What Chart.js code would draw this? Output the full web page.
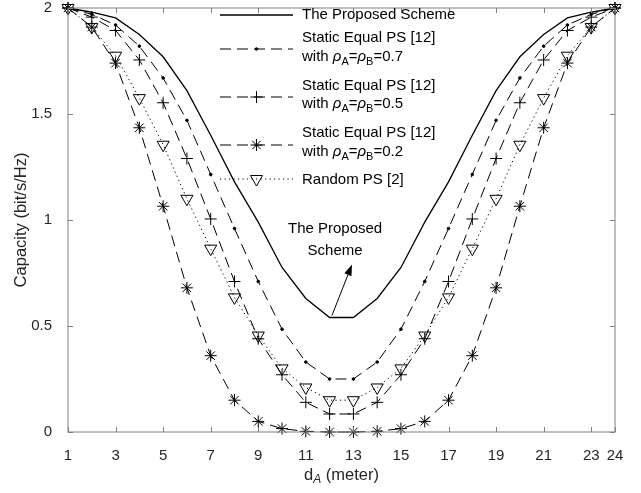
<!DOCTYPE html>
<html><head><meta charset="utf-8">
<script src="https://cdn.jsdelivr.net/npm/chart.js@4"></script>
<style>html,body{margin:0;padding:0;background:#fff}</style>
</head><body>
<canvas id="c" width="641" height="493" style="display:block;width:641px;height:493px"></canvas>
<script>
// ---- data ----
const distances   = [1,2,3,4,5,6,7,8,9,10,11,12,13,14,15,16,17,18,19,20,21,22,23,24];
const proposed    = [2,1.98,1.953,1.875,1.77,1.61,1.40,1.18,0.99,0.776,0.63,0.54,0.54,0.63,0.776,0.99,1.18,1.40,1.61,1.77,1.875,1.953,1.98,2];
const staticRho07 = [2,1.97,1.92,1.82,1.67,1.47,1.215,0.96,0.71,0.485,0.33,0.25,0.25,0.33,0.485,0.71,0.96,1.215,1.47,1.67,1.82,1.92,1.97,2];
const staticRho05 = [2,1.957,1.894,1.755,1.553,1.29,1.005,0.71,0.44,0.27,0.14,0.085,0.085,0.14,0.27,0.44,0.71,1.005,1.29,1.553,1.755,1.894,1.957,2];
const staticRho02 = [2,1.91,1.74,1.435,1.065,0.68,0.36,0.15,0.05,0.016,0.003,0,0,0.003,0.016,0.05,0.15,0.36,0.68,1.065,1.435,1.74,1.91,2];
const randomPS    = [2,1.91,1.775,1.575,1.355,1.10,0.865,0.635,0.455,0.30,0.21,0.15,0.15,0.21,0.30,0.455,0.635,0.865,1.10,1.355,1.575,1.775,1.91,2];
const xTicks = [1,3,5,7,9,11,13,15,17,19,21,23,24];
const yTicks = [0,0.5,1,1.5,2];
const seriesLabels = ['The Proposed Scheme','Static Equal PS [12] with ρA=ρB=0.7','Static Equal PS [12] with ρA=ρB=0.5','Static Equal PS [12] with ρA=ρB=0.2','Random PS [2]'];

const FONT = '"Liberation Sans", Arial, Helvetica, sans-serif';
const AXIS_COLOR = '#808080';
const TEXT_COLOR = '#262626';
Chart.defaults.font.family = FONT;
Chart.defaults.font.size = 15;

const DASH = [11, 6];
const DOT = [1.2, 3.3];

function pts(arr){ return arr.map((v,i)=>({x: distances[i], y: v})); }
function ds(label, arr, o){
  return Object.assign({label, data: pts(arr), borderColor:'#000', backgroundColor:'rgba(0,0,0,0)',
    pointBorderColor:'#000', pointBackgroundColor:'rgba(0,0,0,0)', borderWidth:1, pointBorderWidth:1,
    tension:0, fill:false, clip:false, borderCapStyle:'butt'}, o);
}

const datasets = [
  ds(seriesLabels[0], proposed, {borderWidth:1.3, pointRadius:0}),
  ds(seriesLabels[1], staticRho07, {borderDash:DASH, pointStyle:'circle', pointRadius:1.3, pointBackgroundColor:'#000'}),
  ds(seriesLabels[2], staticRho05, {borderDash:DASH, pointStyle:'cross', pointRadius:6}),
  ds(seriesLabels[3], staticRho02, {borderDash:DASH, pointStyle:'star', pointRadius:6}),
  ds(seriesLabels[4], randomPS, {borderDash:DOT, pointStyle:'triangle', pointRotation:180, pointRadius:7})
];

function segFont(s){
  const size = s.sub ? (s.big ? 12 : 11) : (s.big ? 16.5 : 15);
  return (s.it ? 'italic ' : '') + size + 'px ' + FONT;
}
function drawRich(ctx, segs, x, y, align){
  const w = segs.map(s => { ctx.font = segFont(s); return ctx.measureText(s.t).width; });
  const total = w.reduce((a,b)=>a+b,0);
  let cx = align === 'center' ? x - total/2 : x;
  ctx.textAlign = 'left';
  ctx.textBaseline = 'middle';
  segs.forEach((s,i)=>{ ctx.font = segFont(s); ctx.fillText(s.t, cx, y + (s.sub ? 5 : 0)); cx += w[i]; });
}
function withRho(v){
  return [{t:'with '},{t:'ρ',it:true},{t:'A',sub:true},{t:'='},{t:'ρ',it:true},{t:'B',sub:true},{t:'='+v}];
}

const decor = {
  id: 'decor',
  afterDraw(chart){
    const ctx = chart.ctx, a = chart.chartArea, xs = chart.scales.x, ys = chart.scales.y;
    ctx.save();
    // box and inward ticks
    ctx.strokeStyle = AXIS_COLOR; ctx.lineWidth = 1; ctx.setLineDash([]);
    ctx.strokeRect(a.left, a.top, a.right - a.left, a.bottom - a.top);
    ctx.beginPath();
    xTicks.forEach(v => { const p = Math.round(xs.getPixelForValue(v)) + 0.5;
      ctx.moveTo(p, a.bottom); ctx.lineTo(p, a.bottom - 5);
      ctx.moveTo(p, a.top); ctx.lineTo(p, a.top + 5); });
    yTicks.forEach(v => { const p = Math.round(ys.getPixelForValue(v)) + 0.5;
      ctx.moveTo(a.left, p); ctx.lineTo(a.left + 5, p);
      ctx.moveTo(a.right, p); ctx.lineTo(a.right - 5, p); });
    ctx.stroke();

    // x axis title
    ctx.fillStyle = TEXT_COLOR;
    drawRich(ctx, [{t:'d',big:true},{t:'A',sub:true,it:true,big:true},{t:' (meter)',big:true}], (a.left + a.right)/2, 475, 'center');

    // annotation text + arrow
    ctx.fillStyle = '#000';
    const tx = xs.getPixelForValue(12.23);
    drawRich(ctx, [{t:'The Proposed'}], tx, ys.getPixelForValue(0.96), 'center');
    drawRich(ctx, [{t:'Scheme'}], tx, ys.getPixelForValue(0.855), 'center');
    const x0 = xs.getPixelForValue(12.1), y0 = ys.getPixelForValue(0.55);
    const x1 = xs.getPixelForValue(12.94), y1 = ys.getPixelForValue(0.79);
    const ang = Math.atan2(y1 - y0, x1 - x0), L = 11, W = 3.8;
    ctx.strokeStyle = '#000'; ctx.lineWidth = 1;
    ctx.beginPath(); ctx.moveTo(x0, y0); ctx.lineTo(x1 - L*Math.cos(ang), y1 - L*Math.sin(ang)); ctx.stroke();
    ctx.beginPath(); ctx.moveTo(x1, y1);
    ctx.lineTo(x1 - L*Math.cos(ang) + W*Math.sin(ang), y1 - L*Math.sin(ang) - W*Math.cos(ang));
    ctx.lineTo(x1 - L*Math.cos(ang) - W*Math.sin(ang), y1 - L*Math.sin(ang) + W*Math.cos(ang));
    ctx.closePath(); ctx.fillStyle = '#000'; ctx.fill();

    // legend
    const entries = [
      {ds:0, lineY:15, texts:[[{t:'The Proposed Scheme'}, 15]]},
      {ds:1, lineY:49, texts:[[{t:'Static Equal PS [12]'}, 38], [withRho('0.7'), 57]]},
      {ds:2, lineY:97, texts:[[{t:'Static Equal PS [12]'}, 86], [withRho('0.5'), 104]]},
      {ds:3, lineY:145, texts:[[{t:'Static Equal PS [12]'}, 133], [withRho('0.2'), 152]]},
      {ds:4, lineY:179, texts:[[{t:'Random PS [2]'}, 180]]}
    ];
    const lx0 = 220, lx1 = 293, tx0 = 302;
    entries.forEach(e => {
      const d = datasets[e.ds];
      ctx.strokeStyle = '#000'; ctx.lineWidth = d.borderWidth; ctx.lineCap = 'butt';
      ctx.setLineDash(d.borderDash || []);
      ctx.beginPath(); ctx.moveTo(lx0, e.lineY); ctx.lineTo(lx1, e.lineY); ctx.stroke();
      ctx.setLineDash([]);
      if (d.pointRadius > 0){
        ctx.lineWidth = 1; ctx.strokeStyle = '#000'; ctx.fillStyle = d.pointBackgroundColor;
        Chart.helpers.drawPoint(ctx, {pointStyle:d.pointStyle, rotation:d.pointRotation||0, radius:d.pointRadius, borderWidth:1}, (lx0+lx1)/2, e.lineY);
      }
      ctx.fillStyle = '#000';
      e.texts.forEach(([segs, y]) => drawRich(ctx, Array.isArray(segs) ? segs : [segs], tx0, y, 'left'));
    });
    ctx.restore();
  }
};

new Chart(document.getElementById('c'), {
  type: 'line',
  data: { datasets },
  options: {
    responsive: false, animation: false, devicePixelRatio: 1,
    layout: { padding: {top: 4, right: 26, bottom: 0, left: 0} },
    plugins: { legend: {display:false}, tooltip: {enabled:false} },
    scales: {
      x: {
        type: 'linear', min: 1, max: 24,
        afterBuildTicks: s => { s.ticks = xTicks.map(v => ({value: v})); },
        afterFit: s => { s.height = 61; s.paddingLeft = 0; s.paddingRight = 0; },
        grid: {display: false}, border: {display: false},
        ticks: {color: TEXT_COLOR, padding: 7, autoSkip: false, maxRotation: 0, callback: v => String(v), font:{size:15}}
      },
      y: {
        type: 'linear', min: 0, max: 2,
        afterBuildTicks: s => { s.ticks = yTicks.map(v => ({value: v})); },
        afterFit: s => { s.width = 68; s.paddingTop = 0; s.paddingBottom = 0; },
        grid: {display: false}, border: {display: false},
        ticks: {color: TEXT_COLOR, padding: 8, callback: v => String(v), font:{size:15}},
        title: {display: true, text: 'Capacity (bit/s/Hz)', color: TEXT_COLOR, font:{size:16.5}, padding:{top:12, bottom:0}}
      }
    }
  },
  plugins: [decor]
});
</script>
</body></html>
